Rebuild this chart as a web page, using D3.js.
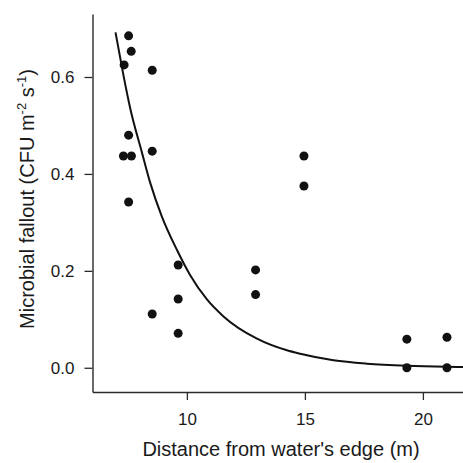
<!DOCTYPE html>
<html>
<head>
<meta charset="utf-8">
<script src="https://cdn.jsdelivr.net/npm/d3@7"></script>
<style>
  html, body { margin: 0; padding: 0; background: #fff; }
  svg { display: block; }
  text { font-family: "Liberation Sans", Arial, sans-serif; fill: #1a1a1a; }
</style>
</head>
<body>
<svg id="chart" width="463" height="463"></svg>
<script>
// Observed points: distance from water's edge (m) and microbial fallout
const distance = [7.53, 7.64, 7.34, 8.53, 7.53, 8.53, 7.31, 7.65, 7.53,
                  9.63, 12.91, 9.63, 12.91, 8.53, 9.63, 14.96, 14.96,
                  19.32, 21.02, 19.32, 21.02];
const fallout  = [0.685, 0.653, 0.625, 0.614, 0.480, 0.447, 0.437, 0.437, 0.342,
                  0.212, 0.202, 0.142, 0.151, 0.111, 0.071, 0.437, 0.375,
                  0.059, 0.063, 0.000, 0.000];

// Fitted decay curve
const curveX = [6.975, 7.31, 7.60, 8.09, 8.45, 8.94, 9.58, 10.14, 10.85, 11.55,
                12.97, 14.24, 14.80, 16.21, 17.63, 19.32, 21.02, 21.75];
const curveY = [0.692, 0.604, 0.535, 0.445, 0.381, 0.312, 0.243, 0.191, 0.141, 0.106,
                0.060, 0.036, 0.029, 0.0155, 0.0085, 0.0042, 0.0021, 0.0016];

const xTicks = [10, 15, 20];
const yTicks = [0.0, 0.2, 0.4, 0.6];

const svg = d3.select("#chart");
const x = d3.scaleLinear().domain([6, 22]).range([92.5, 470.1]);
const y = d3.scaleLinear().domain([-0.05, 0.73]).range([392, 14]);

const axisColor = "#2a2a2a";

// X axis
const gx = svg.append("g").attr("transform", "translate(0,392)")
  .call(d3.axisBottom(x).tickValues(xTicks).tickFormat(d3.format("d")).tickSizeInner(8).tickSizeOuter(0).tickPadding(13));
gx.select(".domain").attr("stroke", axisColor).attr("stroke-width", 1.4);
gx.selectAll(".tick line").attr("stroke", axisColor).attr("stroke-width", 1.3);
gx.selectAll(".tick text").attr("font-size", 17).attr("font-family", "Liberation Sans, Arial, sans-serif").attr("fill", "#1a1a1a");

// Y axis
const gy = svg.append("g").attr("transform", "translate(92.5,0)")
  .call(d3.axisLeft(y).tickValues(yTicks).tickFormat(d3.format(".1f")).tickSizeInner(8).tickSizeOuter(0).tickPadding(10));
gy.select(".domain").attr("stroke", axisColor).attr("stroke-width", 1.4);
gy.selectAll(".tick line").attr("stroke", axisColor).attr("stroke-width", 1.3);
gy.selectAll(".tick text").attr("font-size", 17).attr("font-family", "Liberation Sans, Arial, sans-serif").attr("fill", "#1a1a1a");

// Fitted curve
const line = d3.line().x(d => x(d[0])).y(d => y(d[1])).curve(d3.curveMonotoneX);
svg.append("path")
  .datum(curveX.map((v, i) => [v, curveY[i]]))
  .attr("d", line)
  .attr("fill", "none")
  .attr("stroke", "#111")
  .attr("stroke-width", 2);

// Points
svg.append("g").selectAll("circle")
  .data(distance.map((v, i) => [v, fallout[i]]))
  .join("circle")
  .attr("cx", d => x(d[0]))
  .attr("cy", d => y(d[1]))
  .attr("r", 4.5)
  .attr("fill", "#111");

// X title
svg.append("text")
  .attr("x", 281).attr("y", 456)
  .attr("text-anchor", "middle")
  .attr("font-size", 20)
  .text("Distance from water's edge (m)");

// Y title
const yt = svg.append("text")
  .attr("transform", "translate(34,199) rotate(-90)")
  .attr("text-anchor", "middle")
  .attr("font-size", 20);
yt.append("tspan").text("Microbial fallout (CFU m");
yt.append("tspan").attr("font-size", 13).attr("dy", -8).text("-2");
yt.append("tspan").attr("dy", 8).text(" s");
yt.append("tspan").attr("font-size", 13).attr("dy", -8).text("-1");
yt.append("tspan").attr("dy", 8).text(")");
</script>
</body>
</html>
